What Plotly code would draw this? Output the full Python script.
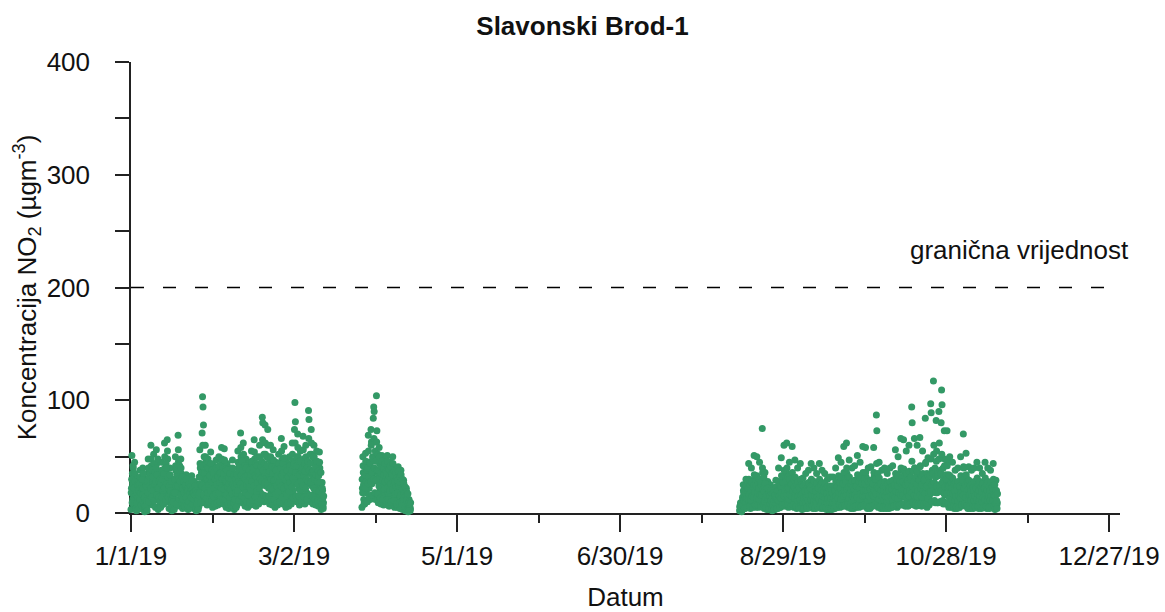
import pandas as pd
import plotly.graph_objects as go

# ---- data: NO2 readings (two sets of 6 per day, offset by 2 h) ----
p1_start = "2019-01-01"
p1_days = [
    [3, 22, 51, 35, 12, 40], [8, 30, 45, 18, 5, 26], [2, 14, 30, 22, 6, 10], [5, 20, 38, 28, 9, 15],
    [4, 25, 40, 32, 11, 18], [1, 10, 28, 16, 3, 8], [6, 24, 48, 36, 14, 20], [9, 30, 60, 42, 18, 26],
    [7, 28, 52, 38, 15, 22], [5, 32, 56, 44, 12, 24], [3, 18, 35, 26, 7, 12], [6, 22, 45, 33, 10, 17],
    [8, 30, 62, 40, 16, 24], [10, 35, 65, 48, 20, 28], [4, 18, 40, 30, 9, 14], [2, 8, 22, 14, 4, 6],
    [5, 26, 50, 38, 12, 20], [9, 34, 69, 46, 18, 27], [6, 24, 48, 35, 13, 19], [4, 16, 32, 26, 9, 12],
    [5, 18, 34, 28, 10, 14], [3, 15, 30, 24, 8, 11], [6, 19, 33, 27, 12, 15], [4, 14, 28, 22, 8, 10],
    [2, 10, 22, 17, 5, 7], [6, 26, 56, 40, 14, 22], [12, 71, 103, 94, 78, 30], [9, 32, 60, 45, 20, 26],
    [7, 24, 48, 36, 15, 20], [8, 28, 54, 40, 17, 23], [5, 20, 42, 32, 11, 16], [6, 24, 47, 36, 13, 19],
    [7, 26, 50, 38, 15, 21], [9, 30, 58, 44, 18, 25], [8, 30, 57, 42, 17, 24], [5, 22, 44, 34, 12, 18],
    [4, 20, 40, 30, 10, 15], [6, 24, 47, 35, 14, 19], [3, 16, 35, 26, 8, 12], [7, 28, 55, 40, 16, 22],
    [10, 36, 71, 50, 22, 30], [9, 33, 62, 45, 20, 27], [6, 25, 48, 36, 14, 20], [5, 22, 44, 34, 12, 18],
    [7, 28, 55, 42, 16, 23], [9, 34, 65, 48, 20, 28], [6, 26, 50, 38, 15, 21], [8, 30, 60, 44, 18, 25],
    [12, 40, 85, 80, 26, 33], [10, 38, 78, 52, 24, 31], [11, 36, 74, 50, 22, 30], [8, 32, 60, 45, 18, 26],
    [7, 30, 56, 42, 17, 24], [5, 24, 45, 35, 13, 19], [7, 28, 52, 40, 16, 22], [9, 34, 66, 47, 20, 28],
    [8, 31, 59, 44, 18, 25], [5, 23, 45, 34, 13, 18], [6, 26, 50, 38, 15, 21], [8, 32, 62, 46, 19, 26],
    [14, 74, 98, 81, 40, 32], [10, 36, 70, 50, 22, 30], [7, 28, 55, 42, 16, 23], [9, 34, 68, 48, 21, 28],
    [8, 32, 60, 45, 18, 26], [12, 45, 91, 83, 28, 35], [10, 38, 74, 52, 24, 31], [8, 32, 60, 45, 18, 26],
    [7, 28, 55, 42, 16, 23], [6, 26, 54, 40, 15, 21], [3, 12, 27, 20, 6, 9],
]
p1_days_b = [
    [18, 30, 9, 26, 42, 14], [22, 12, 35, 28, 4, 16], [9, 18, 25, 3, 14, 20], [26, 12, 32, 18, 7, 22],
    [30, 16, 22, 35, 8, 13], [14, 6, 20, 24, 11, 2], [28, 18, 40, 10, 32, 24], [35, 22, 48, 14, 38, 28],
    [32, 20, 44, 11, 26, 36], [28, 40, 16, 34, 22, 48], [22, 14, 28, 10, 30, 5], [26, 38, 14, 30, 20, 8],
    [35, 22, 50, 28, 12, 44], [40, 26, 55, 32, 14, 22], [24, 12, 34, 20, 6, 28], [12, 5, 16, 10, 18, 3],
    [30, 18, 42, 24, 8, 34], [38, 24, 56, 30, 12, 42], [28, 16, 40, 22, 9, 32], [22, 12, 28, 18, 6, 24],
    [25, 14, 30, 20, 7, 22], [20, 10, 26, 17, 5, 22], [24, 14, 29, 21, 8, 18], [18, 12, 24, 16, 5, 20],
    [14, 8, 18, 12, 3, 16], [32, 18, 44, 26, 9, 36], [42, 24, 60, 36, 16, 50], [36, 22, 50, 30, 13, 40],
    [30, 18, 40, 25, 10, 33], [33, 20, 44, 28, 11, 38], [27, 15, 36, 22, 8, 30], [30, 17, 40, 25, 9, 33],
    [32, 18, 42, 27, 10, 35], [36, 22, 48, 30, 12, 40], [35, 21, 47, 29, 12, 39], [28, 16, 38, 23, 8, 31],
    [26, 14, 35, 21, 7, 28], [30, 17, 40, 25, 9, 33], [23, 12, 30, 18, 5, 26], [34, 20, 45, 28, 11, 37],
    [42, 26, 58, 34, 15, 46], [38, 23, 52, 31, 13, 42], [30, 18, 40, 25, 10, 34], [28, 16, 38, 23, 9, 31],
    [34, 20, 46, 28, 11, 37], [40, 24, 54, 33, 14, 44], [32, 19, 42, 27, 10, 35], [37, 22, 50, 30, 12, 41],
    [46, 28, 65, 38, 16, 52], [44, 27, 62, 36, 15, 50], [42, 26, 60, 35, 15, 48], [37, 22, 50, 30, 12, 41],
    [35, 21, 47, 29, 12, 39], [29, 17, 38, 24, 9, 32], [33, 19, 44, 27, 10, 36], [40, 24, 55, 33, 14, 44],
    [36, 22, 49, 30, 12, 40], [29, 17, 38, 24, 9, 32], [32, 19, 42, 27, 10, 35], [38, 23, 52, 31, 13, 42],
    [44, 27, 62, 36, 15, 50], [42, 26, 58, 34, 15, 46], [34, 20, 46, 28, 11, 37], [40, 24, 56, 33, 14, 44],
    [37, 22, 50, 30, 12, 41], [46, 28, 66, 38, 16, 52], [44, 27, 62, 36, 15, 50], [37, 22, 50, 30, 12, 41],
    [34, 20, 46, 28, 11, 37], [33, 19, 45, 27, 10, 36], [17, 8, 22, 13, 4, 15],
]

p2_start = "2019-03-27"
p2_days = [
    [5, 22, 50, 36, 12, 28], [8, 30, 53, 40, 18, 25], [10, 35, 69, 45, 22, 30], [12, 40, 74, 63, 26, 34],
    [14, 84, 94, 90, 38, 30], [12, 63, 104, 73, 36, 28], [9, 34, 58, 44, 20, 27], [8, 32, 51, 40, 18, 25],
    [7, 30, 48, 38, 16, 23], [8, 32, 51, 40, 18, 25], [6, 28, 45, 36, 15, 22], [7, 30, 50, 38, 16, 24],
    [5, 24, 40, 32, 12, 19], [5, 25, 41, 33, 12, 20], [4, 22, 38, 30, 10, 17], [3, 16, 29, 24, 8, 12],
    [2, 12, 22, 17, 5, 9], [1, 6, 12, 9, 3, 4],
]
p2_days_b = [
    [30, 18, 42, 25, 8, 34], [34, 22, 46, 28, 10, 38], [40, 26, 55, 32, 14, 45], [44, 28, 60, 36, 16, 50],
    [48, 30, 66, 40, 18, 55], [46, 29, 63, 38, 17, 52], [38, 24, 50, 31, 13, 42], [35, 22, 46, 29, 12, 39],
    [34, 21, 44, 28, 11, 37], [35, 22, 46, 29, 12, 39], [32, 20, 42, 26, 10, 35], [34, 21, 44, 28, 11, 37],
    [28, 17, 36, 23, 8, 31], [29, 18, 37, 24, 9, 32], [27, 16, 34, 22, 8, 30], [21, 12, 26, 17, 5, 23],
    [15, 8, 19, 12, 3, 17], [8, 4, 10, 6, 2, 9],
]

p3_start = "2019-08-13"
p3_days = [
    [2, 5, 9, 7, 3, 4], [3, 12, 25, 18, 6, 9], [4, 14, 30, 22, 8, 11], [5, 18, 44, 26, 10, 14],
    [4, 16, 40, 24, 9, 12], [6, 20, 51, 30, 12, 16], [5, 19, 50, 28, 11, 15], [5, 18, 45, 26, 10, 14],
    [6, 22, 75, 36, 13, 17], [4, 15, 36, 24, 8, 11], [3, 13, 28, 20, 7, 10], [3, 12, 25, 19, 6, 9],
    [2, 11, 22, 17, 5, 8], [3, 13, 29, 21, 7, 10], [4, 16, 40, 25, 9, 12], [5, 18, 49, 28, 10, 14],
    [6, 22, 60, 33, 12, 17], [6, 23, 62, 35, 13, 18], [5, 18, 45, 27, 10, 14], [6, 21, 59, 32, 12, 16],
    [5, 18, 47, 28, 10, 14], [4, 16, 40, 25, 9, 12], [5, 17, 44, 26, 10, 13], [3, 14, 31, 22, 7, 10],
    [4, 15, 35, 23, 8, 11], [4, 16, 38, 24, 9, 12], [5, 17, 44, 26, 10, 13], [4, 16, 40, 25, 9, 12],
    [4, 15, 35, 23, 8, 11], [5, 17, 44, 26, 10, 13], [4, 16, 38, 24, 9, 12], [4, 15, 35, 23, 8, 11],
    [3, 14, 30, 21, 7, 10], [3, 14, 32, 22, 7, 10], [3, 14, 32, 22, 7, 10], [4, 16, 40, 25, 9, 12],
    [5, 18, 49, 28, 10, 14], [5, 18, 45, 27, 10, 14], [6, 21, 59, 32, 12, 16], [6, 23, 62, 35, 13, 18],
    [5, 18, 47, 28, 10, 14], [4, 16, 40, 25, 9, 12], [4, 16, 42, 25, 9, 12], [5, 19, 51, 29, 11, 15],
    [5, 18, 45, 27, 10, 14], [6, 21, 59, 32, 12, 16], [6, 21, 58, 32, 12, 16], [4, 16, 40, 25, 9, 12],
    [4, 16, 41, 25, 9, 12], [6, 21, 58, 32, 12, 16], [7, 26, 87, 73, 14, 19], [5, 18, 45, 27, 10, 14],
    [4, 15, 38, 24, 9, 11], [4, 16, 40, 25, 9, 12], [4, 15, 35, 23, 8, 11], [4, 16, 40, 25, 9, 12],
    [5, 17, 42, 26, 10, 13], [6, 20, 56, 31, 12, 16], [5, 19, 50, 29, 11, 15], [7, 24, 66, 38, 14, 18],
    [7, 24, 65, 37, 14, 18], [6, 21, 55, 32, 12, 16], [6, 22, 60, 34, 13, 17], [8, 30, 94, 80, 16, 22],
    [7, 24, 66, 40, 14, 19], [6, 22, 60, 36, 13, 17], [7, 25, 67, 42, 15, 19], [6, 21, 55, 34, 12, 16],
    [8, 28, 84, 45, 16, 21], [5, 19, 49, 30, 11, 15], [9, 34, 97, 89, 18, 24], [10, 38, 117, 60, 20, 26],
    [9, 32, 82, 55, 18, 23], [9, 34, 90, 62, 19, 24], [10, 80, 109, 96, 20, 27], [8, 28, 73, 48, 16, 21],
    [8, 28, 73, 46, 16, 21], [5, 19, 50, 30, 11, 15], [5, 18, 45, 28, 10, 14], [4, 15, 38, 24, 9, 11],
    [4, 16, 40, 25, 9, 12], [5, 19, 50, 30, 11, 15], [7, 25, 70, 40, 14, 18], [6, 20, 53, 31, 12, 16],
    [4, 16, 41, 25, 9, 12], [4, 15, 38, 24, 9, 11], [4, 16, 40, 25, 9, 12], [5, 18, 45, 27, 10, 14],
    [4, 16, 40, 25, 9, 12], [4, 15, 35, 23, 8, 11], [5, 18, 45, 27, 10, 14], [4, 16, 40, 25, 9, 12],
    [4, 15, 38, 24, 9, 11], [5, 17, 44, 26, 10, 13], [3, 12, 29, 20, 7, 9],
]
p3_days_b = [
    [6, 3, 8, 5, 1, 7], [14, 8, 20, 11, 4, 16], [18, 10, 24, 13, 5, 20], [22, 12, 30, 16, 6, 25],
    [20, 11, 28, 15, 5, 23], [25, 14, 34, 19, 7, 28], [24, 13, 33, 18, 7, 27], [22, 12, 30, 16, 6, 25],
    [28, 16, 40, 21, 8, 32], [19, 10, 26, 14, 5, 22], [16, 9, 22, 12, 4, 18], [15, 8, 20, 11, 4, 17],
    [13, 7, 18, 10, 3, 15], [16, 9, 23, 12, 4, 19], [20, 11, 28, 15, 5, 23], [24, 13, 33, 18, 7, 27],
    [27, 15, 38, 20, 8, 31], [28, 16, 40, 21, 8, 32], [22, 12, 30, 16, 6, 25], [26, 15, 36, 20, 7, 30],
    [23, 13, 32, 17, 6, 26], [20, 11, 28, 15, 5, 23], [22, 12, 30, 16, 6, 25], [17, 9, 24, 13, 4, 20],
    [19, 10, 26, 14, 5, 22], [20, 11, 27, 15, 5, 23], [22, 12, 30, 16, 6, 25], [20, 11, 28, 15, 5, 23],
    [19, 10, 26, 14, 5, 22], [22, 12, 30, 16, 6, 25], [20, 11, 27, 15, 5, 23], [19, 10, 26, 14, 5, 22],
    [17, 9, 23, 13, 4, 20], [18, 10, 24, 13, 4, 21], [18, 10, 24, 13, 4, 21], [20, 11, 28, 15, 5, 23],
    [24, 13, 33, 18, 7, 27], [22, 12, 31, 17, 6, 26], [26, 15, 36, 20, 7, 30], [28, 16, 40, 21, 8, 32],
    [23, 13, 32, 17, 6, 26], [20, 11, 28, 15, 5, 23], [21, 12, 29, 16, 6, 24], [24, 14, 34, 19, 7, 28],
    [22, 12, 31, 17, 6, 26], [26, 15, 36, 20, 7, 30], [26, 15, 36, 20, 7, 30], [20, 11, 28, 15, 5, 23],
    [21, 12, 29, 16, 6, 24], [26, 15, 36, 20, 7, 30], [30, 17, 44, 23, 9, 35], [22, 12, 31, 17, 6, 26],
    [20, 11, 27, 15, 5, 23], [20, 11, 28, 15, 5, 23], [19, 10, 26, 14, 5, 22], [20, 11, 28, 15, 5, 23],
    [21, 12, 29, 16, 6, 24], [25, 14, 35, 19, 7, 29], [24, 13, 33, 18, 7, 27], [28, 16, 40, 21, 8, 32],
    [28, 16, 39, 21, 8, 32], [25, 14, 35, 19, 7, 29], [26, 15, 37, 20, 8, 30], [32, 18, 46, 24, 9, 37],
    [28, 16, 40, 21, 8, 32], [26, 15, 37, 20, 8, 30], [29, 16, 41, 22, 8, 33], [25, 14, 35, 19, 7, 29],
    [30, 17, 44, 23, 9, 35], [24, 13, 33, 18, 7, 27], [33, 19, 48, 25, 10, 38], [35, 20, 52, 27, 11, 40],
    [32, 18, 46, 24, 9, 37], [33, 19, 48, 25, 10, 38], [35, 20, 52, 27, 11, 40], [30, 17, 42, 23, 9, 34],
    [30, 17, 42, 23, 9, 34], [24, 13, 33, 18, 7, 27], [22, 12, 31, 17, 6, 26], [20, 11, 27, 15, 5, 23],
    [20, 11, 28, 15, 5, 23], [24, 13, 33, 18, 7, 27], [29, 16, 41, 22, 8, 33], [25, 14, 34, 19, 7, 28],
    [21, 12, 29, 16, 6, 24], [20, 11, 27, 15, 5, 23], [20, 11, 28, 15, 5, 23], [22, 12, 31, 17, 6, 26],
    [20, 11, 28, 15, 5, 23], [19, 10, 26, 14, 5, 22], [22, 12, 31, 17, 6, 26], [20, 11, 28, 15, 5, 23],
    [20, 11, 27, 15, 5, 23], [22, 12, 30, 16, 6, 25], [15, 8, 20, 11, 4, 17],
]

limit_value = 200
limit_label = "granična vrijednost"
x_tick_vals = ["2019-01-01", "2019-03-02", "2019-05-01", "2019-06-30", "2019-08-29", "2019-10-28", "2019-12-27"]
x_tick_text = ["1/1/19", "3/2/19", "5/1/19", "6/30/19", "8/29/19", "10/28/19", "12/27/19"]
x_minor_vals = ["2019-01-31", "2019-04-01", "2019-05-31", "2019-07-30", "2019-09-28", "2019-11-27"]
y_tick_vals = [0, 100, 200, 300, 400]
y_minor_vals = [50, 150, 250, 350]

# ---- build time stamps ----
xs, ys = [], []
for start, days, offset in [(p1_start, p1_days, 0), (p1_start, p1_days_b, 2),
                            (p2_start, p2_days, 0), (p2_start, p2_days_b, 2),
                            (p3_start, p3_days, 0), (p3_start, p3_days_b, 2)]:
    t0 = pd.Timestamp(start)
    for d, vals in enumerate(days):
        for k, v in enumerate(vals):
            xs.append(t0 + pd.Timedelta(days=d) + pd.Timedelta(hours=4 * k + offset))
            ys.append(v)

GREEN = "#339966"
FONT = "Liberation Sans, Arial, sans-serif"
FS = 26

fig = go.Figure()
fig.add_trace(go.Scatter(
    x=xs, y=ys, mode="markers",
    marker=dict(color=GREEN, size=7, line=dict(width=0)),
    cliponaxis=False, showlegend=False,
))
fig.add_trace(go.Scatter(
    x=["2019-01-01", "2019-12-31"], y=[limit_value, limit_value], mode="lines",
    line=dict(color="black", width=1.4, dash="13px,19px"),
    showlegend=False, hoverinfo="skip",
))

fig.add_annotation(
    text=limit_label, xref="paper", yref="y", x=0.898, y=233,
    xanchor="center", yanchor="middle",
    showarrow=False, font=dict(family=FONT, size=FS, color="#111"),
)

fig.update_layout(
    width=1165, height=612,
    margin=dict(l=131, r=45, t=62, b=99),
    paper_bgcolor="white", plot_bgcolor="white",
    title=dict(text="<b>Slavonski Brod-1</b>", x=0.5, xref="container", xanchor="center",
               y=1 - 26 / 612, yanchor="middle", font=dict(family=FONT, size=FS, color="#111")),
    font=dict(family=FONT, size=FS, color="#111"),
)

fig.update_xaxes(
    type="date", range=["2019-01-01", "2019-12-31"], automargin=False,
    showline=True, linecolor="#222", linewidth=1.5, layer="below traces",
    showgrid=False, zeroline=False,
    tickmode="array", tickvals=x_tick_vals, ticktext=x_tick_text,
    ticks="outside", ticklen=17, tickwidth=1.5, tickcolor="#222",
    ticklabelstandoff=2,
    minor=dict(tickmode="array", tickvals=x_minor_vals, ticks="outside", ticklen=8,
               tickwidth=1.5, tickcolor="#222", showgrid=False),
    title=dict(text="Datum", font=dict(family=FONT, size=FS, color="#111"), standoff=22),
    tickfont=dict(family=FONT, size=FS, color="#111"),
)

fig.update_yaxes(
    range=[0, 400], automargin=False,
    showline=True, linecolor="#222", linewidth=1.5, layer="below traces",
    showgrid=False, zeroline=False,
    tickmode="array", tickvals=y_tick_vals,
    ticks="outside", ticklen=14, tickwidth=1.5, tickcolor="#222",
    ticklabelstandoff=20,
    minor=dict(tickmode="array", tickvals=y_minor_vals, ticks="outside", ticklen=14,
               tickwidth=1.5, tickcolor="#222", showgrid=False),
    title=dict(text="Koncentracija NO<sub>2</sub> (µgm<sup>-3</sup>)",
               font=dict(family=FONT, size=FS, color="#111"), standoff=3),
    tickfont=dict(family=FONT, size=FS, color="#111"),
)

fig.write_html(
    "out.html",
    config={"displayModeBar": False},
    post_script="document.body.style.margin='0';document.body.style.padding='0';",
)
